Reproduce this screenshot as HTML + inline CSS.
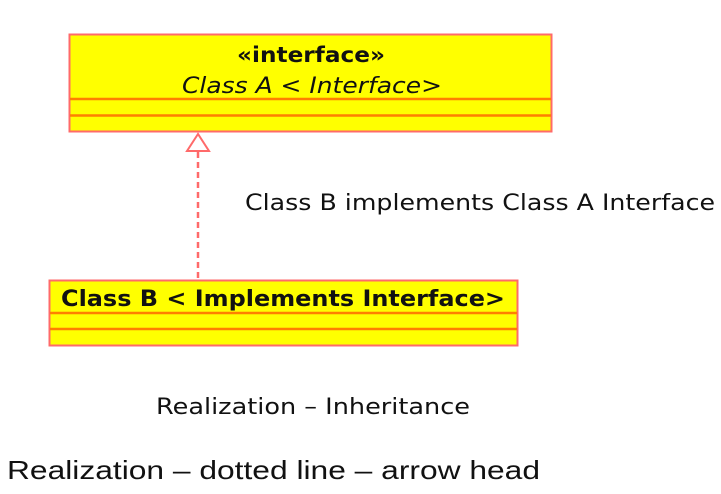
<!DOCTYPE html>
<html><head><style>
body{margin:0;width:721px;height:494px;background:#fff;overflow:hidden}
svg text{font-family:"DejaVu Sans","Liberation Sans",sans-serif;fill:#111}
</style></head><body>
<svg width="721" height="494" style="position:absolute;left:0;top:0">
<rect x="69.5" y="34.5" width="482" height="97" fill="#ffff00" stroke="#ff6a6a" stroke-width="2"/>
<line x1="70" y1="99" x2="551" y2="99" stroke="#ff7f00" stroke-width="2.5"/>
<line x1="70" y1="115.5" x2="551" y2="115.5" stroke="#ff7f00" stroke-width="2.5"/>
<rect x="49.5" y="280.5" width="468" height="65" fill="#ffff00" stroke="#ff6a6a" stroke-width="2"/>
<line x1="50" y1="313" x2="517" y2="313" stroke="#ff7f00" stroke-width="2.5"/>
<line x1="50" y1="329" x2="517" y2="329" stroke="#ff7f00" stroke-width="2.5"/>
<polygon points="198,134 187,151 209,151" fill="#fff" stroke="#ff6a6a" stroke-width="2"/>
<line x1="198" y1="152" x2="198" y2="280" stroke="#ff6a6a" stroke-width="2.5" stroke-dasharray="6,4"/>
<text x="237" y="62" font-size="21" font-weight="bold" textLength="148" lengthAdjust="spacingAndGlyphs">«interface»</text>
<text x="182" y="93" font-size="22" font-style="italic" textLength="260" lengthAdjust="spacingAndGlyphs">Class A &lt; Interface&gt;</text>
<text x="61" y="306" font-size="22" font-weight="bold" textLength="444" lengthAdjust="spacingAndGlyphs">Class B &lt; Implements Interface&gt;</text>
<text x="245" y="210" font-size="22" textLength="470" lengthAdjust="spacingAndGlyphs">Class B implements Class A Interface</text>
<text x="156" y="414" font-size="22" textLength="314" lengthAdjust="spacingAndGlyphs">Realization – Inheritance</text>
<text x="7" y="479" font-size="26" textLength="533" lengthAdjust="spacingAndGlyphs" style="font-family:'Liberation Sans',sans-serif">Realization – dotted line – arrow head</text>
</svg>
</body></html>
